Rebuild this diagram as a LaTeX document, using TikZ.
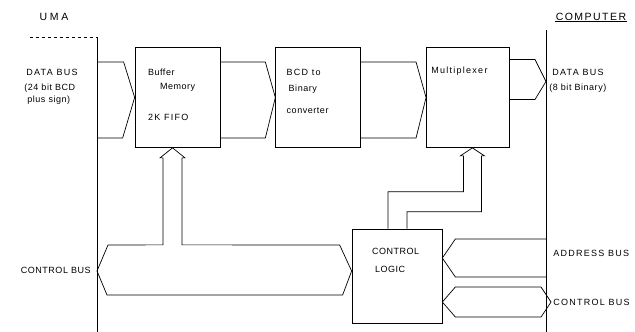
\documentclass[tikz,border=0pt]{standalone}
\usepackage{fontspec}
\setsansfont{Liberation Sans}[LetterSpace=14]
\usetikzlibrary{positioning,calc}

\begin{document}
\begin{tikzpicture}[x=1pt,y=-1pt,line width=0.7pt,
    every node/.style={font=\sffamily\fontsize{9}{10}\selectfont},
    block/.style={draw,minimum width=85pt,minimum height=100pt,inner sep=0pt},
    lbl/.style={anchor=west,inner sep=0pt},
    tight/.style={font=\sffamily\fontsize{9}{10}\selectfont\addfontfeature{LetterSpace=6}}]
    \useasboundingbox (0,0) rectangle (635,332);
    % side buses
    \coordinate (umaT) at (97,37);
    \coordinate (umaB) at (97,332);
    \coordinate (compT) at (546,30);
    \coordinate (compB) at (546,332);
    \draw (umaT) -- (umaB);
    \draw[dashed,line width=0.4pt] (30,37) -- (umaT);
    \draw (compT) -- (compB);
    \node (uma) at (54,17) {\fontsize{10.5}{11}\selectfont\addfontfeature{LetterSpace=25}UMA};
    \node (comp) at (591,17) {\fontsize{10.5}{11}\selectfont COMPUTER};
    \draw[line width=0.5pt] ($(comp.south west)+(3,-3)$) -- ($(comp.south east)+(-3,-3)$);
    % blocks
    \node[block] (buf) at (177.5,97.5) {};
    \node[block,right=55pt of buf] (conv) {};
    \node[block,minimum width=83pt,right=65pt of conv] (mux) {};
    \node[block,minimum width=90pt,minimum height=94pt] (logic) at (397,276) {};
    \node[lbl,tight] at ($(buf.north west)+(13,25)$) {Buffer};
    \node[lbl,tight] at ($(buf.north west)+(25,40)$) {Memory};
    \node[lbl] at ($(buf.north west)+(13,70)$) {2K FIFO};
    \node[lbl] at ($(conv.north west)+(11,25)$) {BCD to};
    \node[lbl,tight] at ($(conv.north west)+(13,42)$) {Binary};
    \node[lbl,tight] at ($(conv.north west)+(11,63)$) {converter};
    \node[lbl] at ($(mux.north west)+(5,24)$) {Multiplexer};
    \node[lbl,tight] at ($(logic.north west)+(20,23)$) {CONTROL};
    \node[lbl,tight] at ($(logic.north west)+(23,41)$) {LOGIC};
    % bus labels
    \node[lbl] at (26,72) {DATA BUS};
    \node[lbl,tight] at (24,88) {(24 bit BCD};
    \node[lbl,tight] at (27,100) {plus sign)};
    \node[anchor=east,inner sep=0pt,tight] at (91,270) {CONTROL BUS};
    \node[lbl] at (552,72) {DATA BUS};
    \node[lbl,tight] at (549,88) {(8 bit Binary)};
    \node[lbl] at (553,253) {ADDRESS BUS};
    \node[lbl] at (553,302) {CONTROL BUS};
    % data path
    \draw ($(umaT|-buf.west)+(0,-35.5)$) -- ($(buf.west)+(-11,-35.5)$) -- (buf.west)
      -- ($(buf.west)+(-12,40.5)$) -- ($(umaT|-buf.west)+(0,40.5)$);
    \draw ($(buf.east)+(0,-35.5)$) -- ($(conv.west)+(-10,-35.5)$) -- (conv.west)
      -- ($(conv.west)+(-10,40.5)$) -- ($(buf.east)+(0,40.5)$);
    \draw ($(conv.east)+(0,-35.5)$) -- ($(mux.west)+(-10,-35.5)$) -- (mux.west)
      -- ($(mux.west)+(-10,40.5)$) -- ($(conv.east)+(0,40.5)$);
    \coordinate (dtip) at ($(compT|-mux.east)+(0,-16)$);
    \draw ($(mux.east)+(0,-38)$) -- ($(dtip)+(-11,-22)$) -- (dtip)
      -- ($(dtip)+(-11,18)$) -- ($(mux.east)+(0,2)$);
    % control bus to buffer
    \coordinate (bufin) at ($(buf.south)+(-5,0)$);
    \coordinate (rtip) at ($(logic.west)+(0,-5)$);
    \coordinate (ltip) at (umaT|-rtip);
    \draw ($(ltip)+(11,-26)$) -- ($(bufin)+(-9.5,97)$) -- ($(bufin)+(-9.5,10)$)
      -- ($(bufin)+(-12.5,10)$) -- (bufin) -- ($(bufin)+(12.5,10)$) -- ($(bufin)+(9.5,10)$)
      -- ($(bufin)+(9.5,97)$) -- ($(rtip)+(-12,-26)$) -- (rtip) -- ($(rtip)+(-9,24)$)
      -- ($(ltip)+(10,24)$) -- (ltip) -- cycle;
    % control logic to multiplexer
    \coordinate (muxin) at ($(mux.south)+(4.5,0)$);
    \draw ($(logic.north)+(-9,0)$) -- ++(0,-37) -| ($(muxin)+(-9,8)$)
      -- ++(-3,0) -- (muxin) -- ($(muxin)+(12,8)$) -- ++(-3,0) |- ($(logic.north)+(10,-17)$)
      -- ($(logic.north)+(10,0)$);
    % computer side buses
    \coordinate (atip) at ($(logic.east)+(0,-18)$);
    \draw (compT|-0,239) -- ($(atip)+(13,-19)$) -- (atip) -- ($(atip)+(13,19)$) -- (compT|-0,277);
    \coordinate (ctip) at ($(logic.east)+(0,26)$);
    \coordinate (cend) at ($(compT|-ctip)+(5,0)$);
    \draw ($(ctip)+(13,-15)$) -- (ctip) -- ($(ctip)+(13,15)$) -- ($(cend)+(-10,15)$)
      -- (cend) -- ($(cend)+(-10,-15)$) -- cycle;
\end{tikzpicture}
\end{document}
